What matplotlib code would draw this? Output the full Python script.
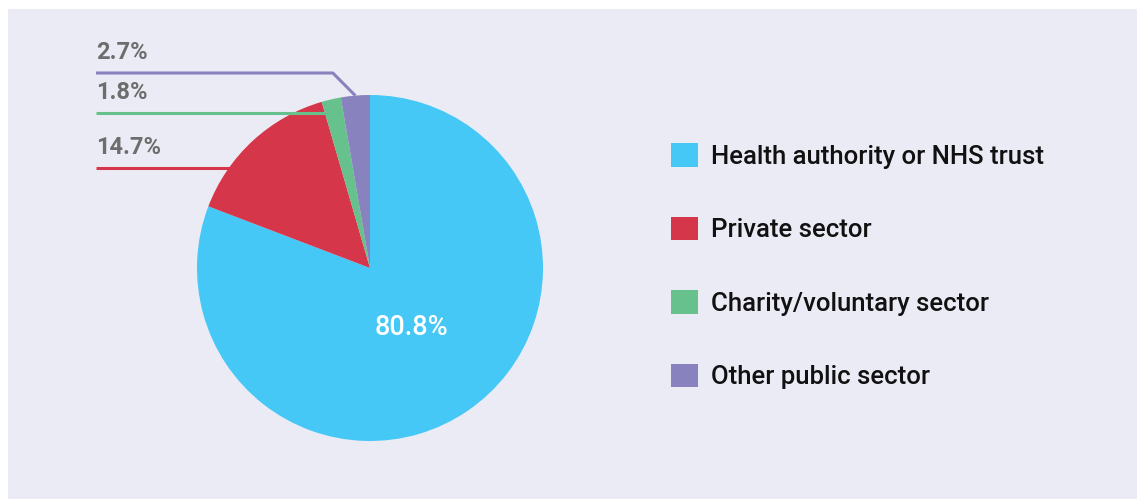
import matplotlib
matplotlib.use('Agg')
import matplotlib.pyplot as plt
from matplotlib.patches import Rectangle, Patch
import numpy as np

plt.rcParams['font.family'] = ['Roboto', 'DejaVu Sans']

categories = ['Health authority or NHS trust', 'Private sector',
              'Charity/voluntary sector', 'Other public sector']
shares = [80.8, 14.7, 1.8, 2.7]
colors = ['#45C8F5', '#D63649', '#66C18D', '#8883BE']
bg = '#EBEBF5'

W, H = 1137, 499
fig = plt.figure(figsize=(W / 100, H / 100), dpi=100, facecolor='white')
fig.patches.append(Rectangle((8 / W, 0), 1 - 8 / W, 1 - 9 / H, transform=fig.transFigure,
                             facecolor=bg, edgecolor='none', zorder=-5))

# pie axes: centre (370, 268) px, radius 173 px
cx, cy, r = 370, 268, 173
ax = fig.add_axes([(cx - r) / W, (H - cy - r) / H, 2 * r / W, 2 * r / H])
ax.set_facecolor('none')
ax.set_zorder(2)

wedges, texts, autotexts = ax.pie(
    shares, colors=colors, startangle=90, counterclock=False, radius=1,
    autopct=lambda p: f'{p:.1f}%' if p > 50 else '', pctdistance=0.42,
    wedgeprops=dict(linewidth=0),
    textprops=dict(color='white', fontsize=19.5, fontweight='medium'))
ax.set_xlim(-1, 1)
ax.set_ylim(-1, 1)
ax.set_aspect('equal')

# leader lines for the small slices
label_x = (96 - cx) / r
line_y = {1: (cy - 168) / r, 2: (cy - 113) / r, 3: (cy - 73) / r}
for i, yl in line_y.items():
    w = wedges[i]
    mid = np.deg2rad((w.theta1 + w.theta2) / 2)
    ex, ey = np.cos(mid), np.sin(mid)
    if i == 3:
        xs = [label_x, ex - 0.13, ex]
        ys = [yl, yl, ey]
    else:
        xs = [label_x, yl / np.tan(mid) - 0.04]
        ys = [yl, yl]
    ax.plot(xs, ys, color=colors[i], lw=2.2, clip_on=False, solid_capstyle='butt')
    ax.text(label_x, yl + 9 / r, f'{shares[i]}%', ha='left', va='bottom',
            fontsize=17, fontweight='bold', color='#6D6D6D', clip_on=False)

handles = [Patch(facecolor=c, edgecolor='none') for c in colors]
fig.legend(handles, categories, loc='upper left',
           bbox_to_anchor=(648 / W, 1 - 120 / H), frameon=False,
           prop=dict(weight='medium', size=18.5),
           handlelength=1.05, handleheight=1.05, handletextpad=0.5,
           labelspacing=1.86, labelcolor='#111111')

fig.savefig('out.png', dpi=100, facecolor='white')
